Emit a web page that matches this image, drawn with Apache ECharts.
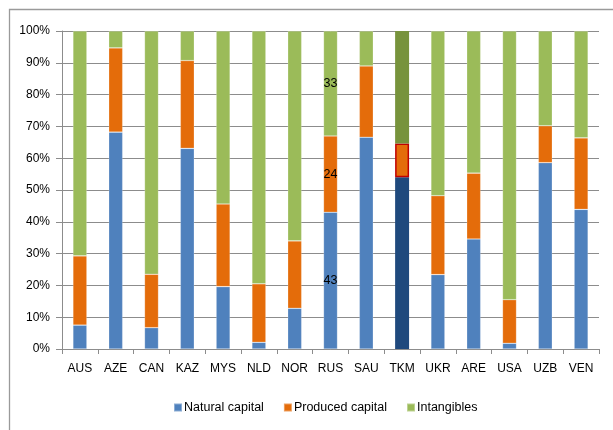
<!DOCTYPE html>
<html>
<head>
<meta charset="utf-8">
<script src="https://cdn.jsdelivr.net/npm/echarts@6/dist/echarts.min.js"></script>
<style>
  html, body { margin: 0; padding: 0; background: #fff; }
  #chart { width: 613px; height: 430px; }
</style>
</head>
<body>
<div id="chart"></div>
<script>
// Composition of wealth by country (% of total)
const countries = ['AUS', 'AZE', 'CAN', 'KAZ', 'MYS', 'NLD', 'NOR', 'RUS', 'SAU', 'TKM', 'UKR', 'ARE', 'USA', 'UZB', 'VEN'];
const naturalCapital  = [7.5, 68.2, 6.7, 63.1, 19.6, 2.1, 12.8, 43, 66.6, 54.0, 23.4, 34.6, 1.8, 58.6, 43.9];
const producedCapital = [21.8, 26.5, 16.8, 27.6, 26.0, 18.4, 21.2, 24, 22.4, 10.6, 24.8, 20.7, 13.7, 11.6, 22.5];
const intangibles     = [70.7, 5.3, 76.5, 9.3, 54.4, 79.5, 66.0, 33, 11.0, 35.4, 51.8, 44.7, 84.5, 29.8, 33.6];
const yTicks = ['0%', '10%', '20%', '30%', '40%', '50%', '60%', '70%', '80%', '90%', '100%'];

const highlighted = 'TKM';
const labelled = 'RUS';
const FONT = '"Liberation Sans", Arial, sans-serif';

const palette = {
  natural:  { base: '#4F81BD', hi: '#1F497D', hiBorder: '#1F497D' },
  produced: { base: '#E46C0A', hi: '#E46C0A', hiBorder: '#C00000' },
  intang:   { base: '#9BBB59', hi: '#77933C', hiBorder: '#77933C' }
};

function buildData(values, colors) {
  return values.map((v, i) => {
    const item = { value: v };
    if (countries[i] === highlighted) {
      item.itemStyle = { color: colors.hi, borderColor: colors.hiBorder, borderWidth: colors.hi === colors.hiBorder ? 0 : 1.5 };
    }
    if (countries[i] === labelled) {
      item.label = { show: true, position: 'inside', formatter: String(Math.round(v)), color: '#000', fontSize: 12.5, fontFamily: FONT };
    }
    return item;
  });
}

function series(name, values, colors) {
  return {
    name: name,
    type: 'bar',
    stack: 'total',
    barWidth: '39%',
    itemStyle: { color: colors.base, borderColor: 'rgba(255,255,255,0.35)', borderWidth: 0.6 },
    label: { show: false },
    emphasis: { disabled: true },
    data: buildData(values, colors)
  };
}

const chart = echarts.init(document.getElementById('chart'), null, { renderer: 'canvas' });
chart.setOption({
  animation: false,
  backgroundColor: '#fff',
  textStyle: { fontFamily: FONT },
  graphic: [{
    type: 'rect',
    shape: { x: 9.5, y: 9.5, width: 700, height: 500 },
    style: { fill: 'none', stroke: '#9a9a9a', lineWidth: 1.3 },
    silent: true,
    z: -1
  }],
  grid: { left: 62, right: 14, top: 31, bottom: 81, containLabel: false },
  legend: {
    bottom: 11,
    left: 168,
    icon: 'rect',
    itemWidth: 8,
    itemHeight: 8,
    itemGap: 19,
    textStyle: { color: '#000', fontSize: 12.5, fontFamily: FONT, padding: [0, 0, 0, -3] },
    data: ['Natural capital', 'Produced capital', 'Intangibles']
  },
  xAxis: {
    type: 'category',
    data: countries,
    boundaryGap: true,
    axisLine: { lineStyle: { color: '#8c8c8c', width: 1 } },
    axisTick: { show: true, length: 5, lineStyle: { color: '#8c8c8c' } },
    axisLabel: { color: '#000', fontSize: 12, fontFamily: FONT, margin: 14 }
  },
  yAxis: {
    type: 'value',
    min: 0,
    max: 100,
    interval: 10,
    axisLine: { show: true, lineStyle: { color: '#8c8c8c', width: 1 } },
    axisTick: { show: true, length: 6, lineStyle: { color: '#8c8c8c' } },
    axisLabel: {
      color: '#000', fontSize: 12, fontFamily: FONT, margin: 12,
      formatter: v => yTicks[Math.round(v / 10)]
    },
    splitLine: { show: true, lineStyle: { color: '#8c8c8c', width: 1 } }
  },
  series: [
    series('Natural capital', naturalCapital, palette.natural),
    series('Produced capital', producedCapital, palette.produced),
    series('Intangibles', intangibles, palette.intang)
  ]
});
</script>
</body>
</html>
